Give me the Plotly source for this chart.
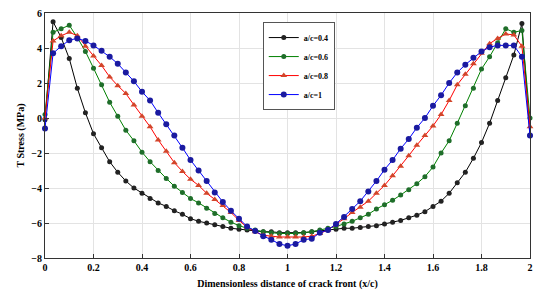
import plotly.graph_objects as go

x_vals = [k / 30 for k in range(61)]

ac04 = [-0.1, 5.5, 4.6, 3.4, 1.7, 0.3, -0.9, -1.7, -2.5, -3.1, -3.6, -4.0, -4.3, -4.6, -4.85, -5.05,
        -5.3, -5.5, -5.75, -5.9, -6.0, -6.1, -6.2, -6.3, -6.35, -6.4, -6.45, -6.5, -6.5, -6.55, -6.55,
        -6.55, -6.55, -6.5, -6.45, -6.4, -6.35, -6.3, -6.3, -6.25, -6.2, -6.15, -6.05, -5.95, -5.85, -5.7,
        -5.55, -5.35, -5.05, -4.75, -4.3, -3.7, -3.1, -2.3, -1.4, -0.3, 1.0, 2.3, 3.6, 5.4, -1.0]

ac06 = [0.2, 4.9, 5.1, 5.3, 4.6, 3.8, 2.85, 1.9, 0.9, 0.1, -0.7, -1.3, -1.95, -2.5, -3.0, -3.45,
        -3.9, -4.25, -4.6, -4.85, -5.15, -5.45, -5.7, -5.95, -6.15, -6.3, -6.4, -6.5, -6.55, -6.6, -6.6,
        -6.6, -6.55, -6.5, -6.4, -6.3, -6.2, -6.05, -5.9, -5.7, -5.5, -5.2, -4.95, -4.7, -4.4, -4.1,
        -3.75, -3.35, -2.8, -2.0, -1.3, -0.3, 0.7, 1.7, 2.8, 3.5, 4.3, 5.1, 4.9, 5.0, 0.0]

ac08 = [0.0, 4.4, 4.7, 4.9, 4.7, 4.1, 3.55, 3.0, 2.35, 1.85, 1.4, 0.75, 0.1, -0.5, -1.25, -1.9,
        -2.55, -3.05, -3.5, -3.85, -4.3, -4.65, -5.0, -5.4, -5.85, -6.25, -6.5, -6.7, -6.75, -6.8, -6.8,
        -6.8, -6.8, -6.75, -6.6, -6.4, -6.1, -5.75, -5.4, -5.1, -4.75, -4.3, -3.85, -3.3, -2.75, -2.15,
        -1.55, -1.0, -0.45, 0.2, 1.0, 1.9, 2.5, 3.1, 3.7, 4.25, 4.55, 4.8, 4.75, 4.1, -0.5]

ac10 = [-0.6, 3.7, 4.1, 4.45, 4.55, 4.4, 4.15, 3.85, 3.5, 3.1, 2.6, 2.1, 1.5, 1.0, 0.3, -0.35,
        -1.0, -1.7, -2.4, -3.0, -3.6, -4.25, -4.8, -5.3, -5.75, -6.2, -6.45, -6.75, -6.95, -7.2, -7.3,
        -7.2, -6.95, -6.9, -6.55, -6.4, -6.05, -5.65, -5.2, -4.75, -4.2, -3.6, -2.95, -2.4, -1.75, -1.2,
        -0.55, 0.0, 0.7, 1.3, 2.0, 2.6, 3.05, 3.45, 3.8, 4.05, 4.15, 4.15, 4.15, 3.5, -1.0]

series_names = ["a/c=0.4", "a/c=0.6", "a/c=0.8", "a/c=1"]
series_values = [ac04, ac06, ac08, ac10]
colors = ["#000000", "#008000", "#ff0000", "#0000ff"]
symbols = ["circle", "circle", "triangle-up", "circle"]
sizes = [5, 5, 6, 6]
marker_colors = ["#222222", "#1f6e2a", "#d2452a", "#1a1aa0"]

x_ticks = [0, 0.2, 0.4, 0.6, 0.8, 1, 1.2, 1.4, 1.6, 1.8, 2]
x_tick_labels = ["0", "0.2", "0.4", "0.6", "0.8", "1", "1.2", "1.4", "1.6", "1.8", "2"]
y_ticks = [-8, -6, -4, -2, 0, 2, 4, 6]

fig = go.Figure()
for name, vals, c, sym, sz, mc in zip(series_names, series_values, colors, symbols, sizes, marker_colors):
    fig.add_trace(go.Scatter(
        x=x_vals, y=vals, name=name, mode="lines+markers",
        line=dict(color=c, width=1),
        marker=dict(symbol=sym, size=sz, color=mc, line=dict(width=0)),
        cliponaxis=False,
    ))

font_family = "Liberation Serif"
fig.update_layout(
    width=534, height=296,
    margin=dict(l=45, r=4, t=13, b=38),
    paper_bgcolor="white", plot_bgcolor="white",
    font=dict(family=font_family, size=10, color="black"),
    showlegend=True,
    legend=dict(
        x=0.449, y=0.963, xanchor="left", yanchor="top",
        bgcolor="white", bordercolor="#555555", borderwidth=1,
        font=dict(family=font_family, size=8, color="black", weight="bold"),
        itemwidth=30, tracegroupgap=0,
    ),
)
fig.update_xaxes(
    range=[0, 2], tickvals=x_ticks, ticktext=x_tick_labels, automargin=False,
    ticklabeloverflow="allow",
    showline=True, linecolor="#333333", linewidth=1, mirror=True,
    ticks="inside", ticklen=4, tickcolor="#333333",
    showgrid=True, gridcolor="#e3e3e3", gridwidth=1, zeroline=False,
    tickfont=dict(family=font_family, size=10, weight="bold"),
    title=dict(text="Dimensionless distance of crack front (x/c)", standoff=7,
               font=dict(family=font_family, size=10, weight="bold")),
)
fig.update_yaxes(
    range=[-8, 6.0001], tickvals=y_ticks, automargin=False,
    ticklabeloverflow="allow",
    showline=True, linecolor="#333333", linewidth=1, mirror=True,
    ticks="inside", ticklen=4, tickcolor="#333333",
    showgrid=True, gridcolor="#e3e3e3", gridwidth=1, zeroline=False,
    tickfont=dict(family=font_family, size=10, weight="bold"),
    title=dict(text="T Stress (MPa)", standoff=4,
               font=dict(family=font_family, size=10, weight="bold")),
)

fig.write_html("out.html", config={"displayModeBar": False},
               post_script="document.body.style.margin='0';")
